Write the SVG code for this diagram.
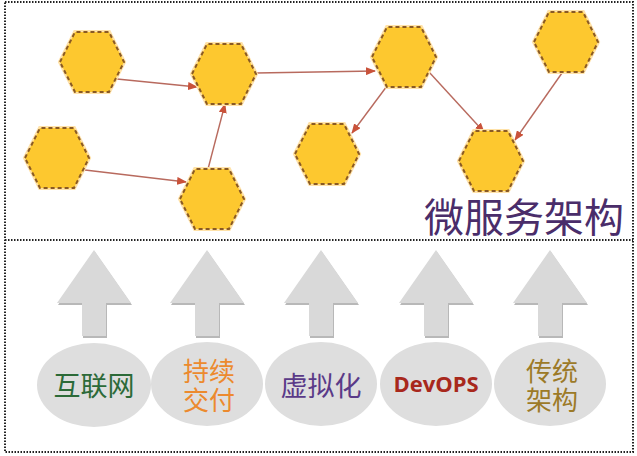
<svg xmlns="http://www.w3.org/2000/svg" width="637" height="456" viewBox="0 0 637 456">
<style>
.frame{fill:none;stroke:#222;stroke-width:2;stroke-dasharray:1.5 1.5}
.hex{fill:#FDC82F;stroke:#8A5A24;stroke-width:2;stroke-dasharray:4 3;stroke-linejoin:round}
.glow{fill:none;stroke:#FFE2A8;stroke-width:4}
.edge{stroke:#B86A5E;stroke-width:1.4;fill:none}
.up{fill:#D9D9D9}
.upsh{fill:#B8B8B8}
.ell{fill:#DEDEDE}
.cjk{font-family:"Noto Sans CJK SC","Noto Sans",sans-serif;text-anchor:middle}
</style>
<defs>
<marker id="ah" markerWidth="10" markerHeight="8" refX="9" refY="4" orient="auto" markerUnits="userSpaceOnUse">
<path d="M0,0 L10,4 L0,8 Z" fill="#C9523A"/>
</marker>
<polygon id="hx" points="-32,0 -17,-30 17,-30 32,0 17,30 -17,30"/>
<path id="ua" d="M0,0 L37,53 L12,53 L12,86 L-12,86 L-12,53 L-37,53 Z"/>
</defs>
<rect width="637" height="456" fill="#fff"/>
<rect class="frame" x="5" y="2" width="628" height="450"/>
<line class="frame" x1="5" y1="240" x2="633" y2="240"/>

<g id="connectors">
<line class="edge" x1="117" y1="79" x2="197" y2="87" marker-end="url(#ah)"/>
<line class="edge" x1="85" y1="170" x2="186" y2="182" marker-end="url(#ah)"/>
<line class="edge" x1="208" y1="169" x2="225" y2="104" marker-end="url(#ah)"/>
<line class="edge" x1="256" y1="73" x2="375" y2="71" marker-end="url(#ah)"/>
<line class="edge" x1="387" y1="86" x2="352" y2="133" marker-end="url(#ah)"/>
<line class="edge" x1="429" y1="72" x2="484" y2="132" marker-end="url(#ah)"/>
<line class="edge" x1="562" y1="73" x2="515" y2="140" marker-end="url(#ah)"/>
</g>

<g id="hex1" transform="translate(92,62)"><use href="#hx" class="glow"/><use href="#hx" class="hex"/></g>
<g id="hex2" transform="translate(224,74)"><use href="#hx" class="glow"/><use href="#hx" class="hex"/></g>
<g id="hex3" transform="translate(57,158)"><use href="#hx" class="glow"/><use href="#hx" class="hex"/></g>
<g id="hex4" transform="translate(212,199)"><use href="#hx" class="glow"/><use href="#hx" class="hex"/></g>
<g id="hex5" transform="translate(404,57)"><use href="#hx" class="glow"/><use href="#hx" class="hex"/></g>
<g id="hex6" transform="translate(566,42)"><use href="#hx" class="glow"/><use href="#hx" class="hex"/></g>
<g id="hex7" transform="translate(327,154)"><use href="#hx" class="glow"/><use href="#hx" class="hex"/></g>
<g id="hex8" transform="translate(491,161)"><use href="#hx" class="glow"/><use href="#hx" class="hex"/></g>

<g id="title"><text x="524" y="232" class="cjk" font-size="40" fill="#4A2D6A">微服务架构</text></g>

<g id="up1" transform="translate(94,250)"><use href="#ua" class="upsh" transform="translate(1,2)"/><use href="#ua" class="up"/></g>
<g id="up2" transform="translate(207,250)"><use href="#ua" class="upsh" transform="translate(1,2)"/><use href="#ua" class="up"/></g>
<g id="up3" transform="translate(321,250)"><use href="#ua" class="upsh" transform="translate(1,2)"/><use href="#ua" class="up"/></g>
<g id="up4" transform="translate(436,250)"><use href="#ua" class="upsh" transform="translate(1,2)"/><use href="#ua" class="up"/></g>
<g id="up5" transform="translate(550,250)"><use href="#ua" class="upsh" transform="translate(1,2)"/><use href="#ua" class="up"/></g>

<g id="n1"><ellipse class="ell" cx="94" cy="385" rx="57" ry="42"/><text x="94" y="396" class="cjk" font-size="27" fill="#2C6A38">互联网</text></g>
<g id="n2"><ellipse class="ell" cx="207" cy="384" rx="56" ry="42"/><text class="cjk" font-size="26" fill="#EC8A2E"><tspan x="209" y="381">持续</tspan><tspan x="209" y="410">交付</tspan></text></g>
<g id="n3"><ellipse class="ell" cx="321" cy="384" rx="56" ry="42"/><text x="321" y="396" class="cjk" font-size="27" fill="#5A3A88">虚拟化</text></g>
<g id="n4"><ellipse class="ell" cx="436" cy="384" rx="56" ry="42"/><text x="436" y="392" font-family="'Open Sans','Liberation Sans',sans-serif" font-weight="bold" font-size="22" text-anchor="middle" fill="#A8281C">DevOPS</text></g>
<g id="n5"><ellipse class="ell" cx="550" cy="384" rx="56" ry="42"/><text class="cjk" font-size="26" fill="#9C7A28"><tspan x="552" y="381">传统</tspan><tspan x="552" y="410">架构</tspan></text></g>
</svg>
